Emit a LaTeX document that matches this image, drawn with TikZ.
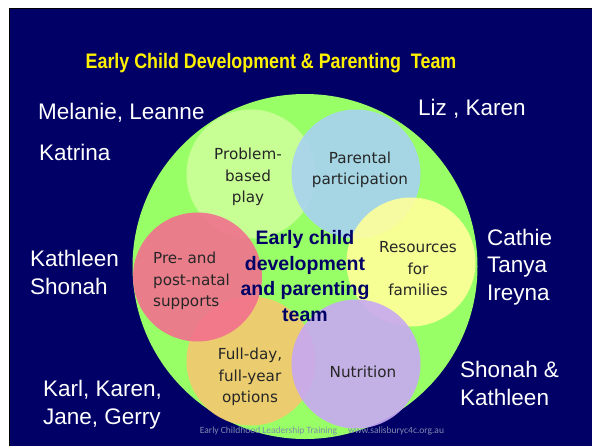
\documentclass[tikz,border=0pt]{standalone}
\usepackage{fontspec}
\setmainfont{Liberation Sans}
\newfontfamily\titlefont{Liberation Sans}[FakeStretch=0.85]
\newfontfamily\topicfont{DejaVu Sans}
\newfontfamily\footfont{Carlito}
\definecolor{slidenavy}{HTML}{000066}
\definecolor{teamgreen}{HTML}{99FF66}
\definecolor{playgreen}{HTML}{CCFF99}
\definecolor{parentblue}{HTML}{A8D2F2}
\definecolor{resyellow}{HTML}{FFFF99}
\definecolor{natalpink}{HTML}{F2708E}
\definecolor{dayorange}{HTML}{F5C870}
\definecolor{nutrililac}{HTML}{C8A8F2}
\definecolor{footgrey}{HTML}{7F8CB0}
\tikzset{
    every node/.style={inner sep=0pt},
    names/.style={text=white,align=left,anchor=base west,font=\fontsize{22.5}{27.5}\selectfont},
    topic/.style={circle,minimum size=129pt,fill opacity=0.9,draw=none},
    topictext/.style={text=black!85,align=center,font=\topicfont\fontsize{15.2}{21.5}\selectfont},
    hub/.style={text=slidenavy,align=center,font=\bfseries\fontsize{19.5}{25.5}\selectfont},
    heading/.style={text=yellow,anchor=base,font=\titlefont\bfseries\fontsize{21}{25}\selectfont}
}

\begin{document}
\begin{tikzpicture}[x=1pt,y=-1pt]
    \useasboundingbox (0,0) rectangle (592,445);
    \fill[white] (0,0) rectangle (592,445);
    \draw[black,line width=1.5pt,fill=slidenavy] (9.5,8.5) rectangle (596,449);
    \node[heading] (title) at (271,68) {Early Child Development \& Parenting\ \ Team};

    \node[circle,fill=teamgreen,minimum size=345pt] (team) at (305,266.5) {};
    \node[topic,fill=playgreen] (play) at (251,174) {};
    \node[topic,fill=parentblue] (parent) at (356,174) {};
    \node[topic,fill=resyellow] (res) at (411,262) {};
    \node[topic,fill=dayorange] (day) at (251,361) {};
    \node[topic,fill=nutrililac] (food) at (356,364) {};
    \node[topic,fill=natalpink] (natal) at (197.5,277) {};

    \node[topictext] (playtext) at ([shift={(-3,3)}]play) {Problem-\\based\\play};
    \node[topictext] (parenttext) at ([shift={(4,-4)}]parent) {Parental\\participation};
    \node[topictext] (restext) at ([shift={(7,7)}]res) {Resources\\for\\families};
    \node[topictext,align=left] (nataltext) at ([shift={(-6,4)}]natal) {Pre- and\\post-natal\\supports};
    \node[topictext] (daytext) at ([shift={(-1,16)}]day) {Full-day,\\full-year\\options};
    \node[topictext] (foodtext) at ([shift={(7,8)}]food) {Nutrition};
    \node[hub] (hubtext) at (305,276) {Early child\\development\\and parenting\\team};

    % multi-line names sit on the baseline of their last line
    \node[names] (nwnames) at (38,119) {Melanie, Leanne};
    \node[names] (katrina) at (39,160) {Katrina};
    \node[names] (wnames) at (30,294) {Kathleen\\Shonah};
    \node[names] (nenames) at (418,115) {Liz , Karen};
    \node[names] (enames) at (487,300) {Cathie\\Tanya\\Ireyna};
    \node[names] (senames) at (460,405) {Shonah \&\\Kathleen};
    \node[names] (swnames) at (43,424) {Karl, Karen,\\Jane, Gerry};

    \node[text=footgrey,anchor=base,font=\footfont\fontsize{9.5}{11}\selectfont] (footer) at (322,433)
        {Early Childhood Leadership Training\hspace{11pt}www.salisburyc4c.org.au};
\end{tikzpicture}
\end{document}
